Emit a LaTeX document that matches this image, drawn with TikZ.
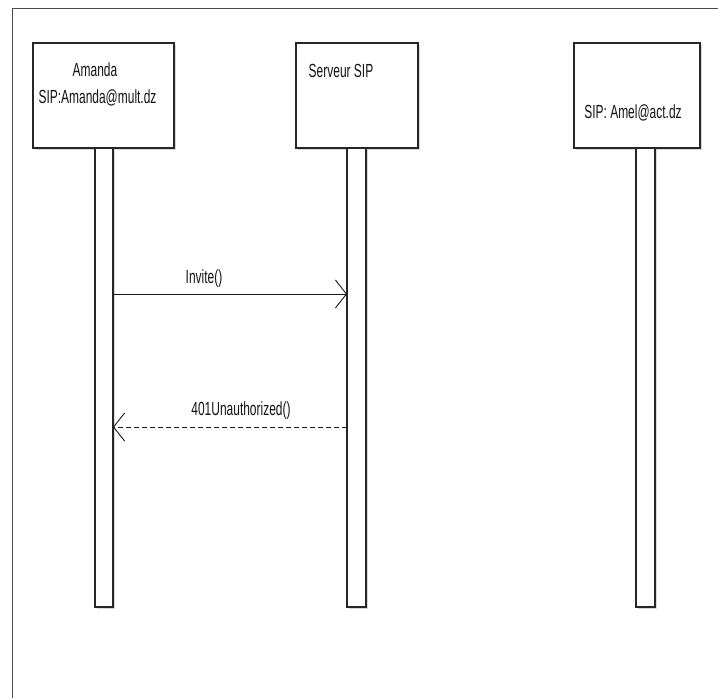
\documentclass[tikz,border=0pt]{standalone}
\usepackage{fontspec}
\newfontfamily\narrow[FakeStretch=0.63]{Liberation Sans}
\usetikzlibrary{arrows.meta,shadows}
\begin{document}
\begin{tikzpicture}[x=1pt,y=-1pt,
  obj/.style={draw=black!85,line width=1.3pt,fill=white,
    drop shadow={shadow xshift=1.5pt,shadow yshift=-2pt,fill=black!25,opacity=0.6}},
  life/.style={draw=black!85,line width=1.1pt,fill=white,
    drop shadow={shadow xshift=1.5pt,shadow yshift=-2pt,fill=black!25,opacity=0.6}},
  lbl/.style={font=\narrow\fontsize{19}{22}\selectfont,text=black!92,inner sep=0pt,anchor=base},
  msg/.style={draw=black!90,line width=0.9pt,-{Straight Barb[length=11pt,width=28pt,line width=0.9pt]}},
  reply/.style={msg,dashed,dash pattern=on 5pt off 3pt}]
\useasboundingbox (0,0) rectangle (718,698);
\fill[white] (0,0) rectangle (718,698);
% frame
\draw[black!70,line width=1.5pt] (12.5,698) -- (12.5,8.5) -- (718,8.5);
% objects
\path[obj] (33,43) rectangle (174,148);
\path[obj] (296,43) rectangle (418,148);
\path[obj] (574,43) rectangle (700,148);
\node[lbl] (amanda) at (95,77) {Amanda};
\node[lbl] (amandasip) at (97.5,104) {SIP:Amanda@mult.dz};
\node[lbl] (serveur) at (341,78) {Serveur SIP};
\node[lbl] (amel) at (633,119) {SIP: Amel@act.dz};
% lifelines
\path[life] (95,148) rectangle (113,607);
\path[life] (347,148) rectangle (366,607);
\path[life] (636,148) rectangle (655,607);
\coordinate (a1) at (113,294);
\coordinate (s1) at (347,294);
\coordinate (s2) at (347,427);
\coordinate (a2) at (113,427);
\draw[msg] (a1) -- (s1);
\draw[reply] (s2) -- (a2);
\node[lbl] (invite) at (204,283) {Invite()};
\node[lbl] (unauth) at (241,415) {401Unauthorized()};
\end{tikzpicture}
\end{document}
